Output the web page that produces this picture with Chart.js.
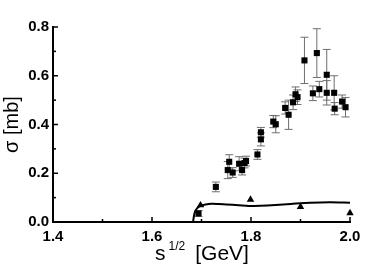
<!DOCTYPE html>
<html>
<head>
<meta charset="utf-8">
<script src="https://cdn.jsdelivr.net/npm/chart.js@4"></script>
<style>
  html, body { margin: 0; padding: 0; background: #fff; }
  #wrap { width: 384px; height: 273px; }
</style>
</head>
<body>
<div id="wrap"><canvas id="sigmaChart"></canvas></div>
<script>
// measured cross section (squares with error bars)
const sqX = [1.694, 1.729, 1.753, 1.756, 1.763, 1.776, 1.782, 1.787, 1.790, 1.813, 1.820, 1.820,
             1.845, 1.850, 1.869, 1.876, 1.885, 1.890, 1.894, 1.908, 1.925, 1.933, 1.938, 1.953,
             1.953, 1.968, 1.969, 1.984, 1.991];
const sqY = [0.035, 0.144, 0.213, 0.247, 0.203, 0.239, 0.213, 0.242, 0.250, 0.277, 0.339, 0.368,
             0.412, 0.401, 0.468, 0.440, 0.491, 0.524, 0.512, 0.663, 0.528, 0.693, 0.545, 0.604,
             0.530, 0.530, 0.465, 0.494, 0.471];
const sqErr = [0.012, 0.020, 0.035, 0.029, 0.020, 0.029, 0.020, 0.020, 0.020, 0.020, 0.027, 0.020,
               0.025, 0.035, 0.025, 0.060, 0.030, 0.030, 0.030, 0.095, 0.030, 0.100, 0.032, 0.104,
               0.050, 0.070, 0.025, 0.027, 0.040];

// triangles
const triX = [1.698, 1.799, 1.900, 2.000];
const triY = [0.069, 0.092, 0.062, 0.037];

// model curve
const curveX = [1.683, 1.6845, 1.686, 1.688, 1.691, 1.695, 1.700, 1.708, 1.720, 1.735, 1.750,
                1.775, 1.795, 1.820, 1.850, 1.880, 1.920, 1.960, 2.000];
const curveY = [0.000, 0.022, 0.036, 0.047, 0.056, 0.063, 0.068, 0.072, 0.075, 0.074, 0.072,
                0.069, 0.066, 0.067, 0.070, 0.074, 0.079, 0.081, 0.079];

const xTicks = { min: 1.4, max: 2.0, step: 0.1 };
const yTicks = { min: 0.0, max: 0.8, step: 0.1 };

const toPoints = (xs, ys) => xs.map((x, i) => ({ x: x, y: ys[i] }));
const isMajor = v => Math.round(v * 10) % 2 === 0;

const errorBars = {
    id: 'errorBars',
    beforeDatasetsDraw(chart) {
        const ctx = chart.ctx;
        const xs = chart.scales.x, ys = chart.scales.y;
        ctx.save();
        ctx.strokeStyle = '#6e6e6e';
        ctx.lineWidth = 1;
        sqX.forEach((x, i) => {
            const px = xs.getPixelForValue(x);
            const top = ys.getPixelForValue(sqY[i] + sqErr[i]);
            const bot = ys.getPixelForValue(sqY[i] - sqErr[i]);
            ctx.beginPath();
            ctx.moveTo(px, top); ctx.lineTo(px, bot);
            ctx.moveTo(px - 4, top); ctx.lineTo(px + 4, top);
            ctx.moveTo(px - 4, bot); ctx.lineTo(px + 4, bot);
            ctx.stroke();
        });
        ctx.restore();
    }
};

const axisDecor = {
    id: 'axisDecor',
    afterDraw(chart) {
        const ctx = chart.ctx;
        const area = chart.chartArea;
        const xs = chart.scales.x, ys = chart.scales.y;
        ctx.save();
        ctx.strokeStyle = '#000';
        ctx.lineWidth = 1.5;
        // inward ticks
        xs.ticks.forEach(t => {
            const px = xs.getPixelForValue(t.value);
            const len = isMajor(t.value) ? 5 : 3;
            ctx.beginPath();
            ctx.moveTo(px, area.bottom);
            ctx.lineTo(px, area.bottom - len);
            ctx.stroke();
        });
        ys.ticks.forEach(t => {
            const py = ys.getPixelForValue(t.value);
            const len = isMajor(t.value) ? 5 : 3;
            ctx.beginPath();
            ctx.moveTo(area.left, py);
            ctx.lineTo(area.left + len, py);
            ctx.stroke();
        });

        // x title with superscript
        ctx.fillStyle = '#000';
        ctx.textBaseline = 'alphabetic';
        ctx.textAlign = 'left';
        const big = '21px "Liberation Sans", Arial, sans-serif';
        const small = '12px "Liberation Sans", Arial, sans-serif';
        ctx.font = big;
        const wS = ctx.measureText('s').width;
        const wG = ctx.measureText('[GeV]').width;
        ctx.font = small;
        const wSup = ctx.measureText('1/2').width;
        const total = wS + 4 + wSup + 10 + wG;
        let cx = (area.left + area.right) / 2 - total / 2 + 1;
        const base = 260;
        ctx.font = big;
        ctx.fillText('s', cx, base);
        cx += wS + 3;
        ctx.font = small;
        ctx.fillText('1/2', cx, base - 10);
        cx += wSup + 10;
        ctx.font = big;
        ctx.fillText('[GeV]', cx, base);

        // y title
        ctx.translate(18, (area.top + area.bottom) / 2);
        ctx.rotate(-Math.PI / 2);
        ctx.textAlign = 'center';
        ctx.font = '20px "Liberation Sans", Arial, sans-serif';
        ctx.fillText('σ [mb]', 0, 0);
        ctx.restore();
    }
};

const tickFont = { family: '"Liberation Sans", Arial, sans-serif', size: 15, weight: 'bold' };

new Chart(document.getElementById('sigmaChart'), {
    type: 'scatter',
    data: {
        datasets: [
            {
                label: 'curve',
                data: toPoints(curveX, curveY),
                showLine: true,
                borderColor: '#000',
                borderWidth: 2,
                pointRadius: 0,
                tension: 0.3,
                fill: false
            },
            {
                label: 'squares',
                data: toPoints(sqX, sqY),
                pointStyle: 'rect',
                pointRadius: 4.3,
                backgroundColor: '#000',
                borderColor: '#000',
                borderWidth: 0,
                clip: false
            },
            {
                label: 'triangles',
                data: toPoints(triX, triY),
                pointStyle: 'triangle',
                pointRadius: 4.3,
                backgroundColor: '#000',
                borderColor: '#000',
                borderWidth: 0,
                clip: false
            }
        ]
    },
    options: {
        responsive: true,
        maintainAspectRatio: false,
        animation: false,
        layout: { padding: { top: 27, right: 34, left: 0, bottom: 0 } },
        plugins: { legend: { display: false }, tooltip: { enabled: false } },
        scales: {
            x: {
                type: 'linear',
                min: xTicks.min, max: xTicks.max,
                afterFit: s => { s.height = 51; },
                grid: { drawOnChartArea: false, drawTicks: false },
                border: { display: true, color: '#000', width: 2 },
                ticks: {
                    stepSize: xTicks.step,
                    padding: 6,
                    color: '#000',
                    font: tickFont,
                    maxRotation: 0,
                    autoSkip: false,
                    callback: v => isMajor(v) ? v.toFixed(1) : ''
                }
            },
            y: {
                type: 'linear',
                min: yTicks.min, max: yTicks.max,
                afterFit: s => { s.width = 53; },
                grid: { drawOnChartArea: false, drawTicks: false },
                border: { display: true, color: '#000', width: 2 },
                ticks: {
                    stepSize: yTicks.step,
                    padding: 4,
                    color: '#000',
                    font: tickFont,
                    autoSkip: false,
                    callback: v => isMajor(v) ? v.toFixed(1) : ''
                }
            }
        }
    },
    plugins: [errorBars, axisDecor]
});
</script>
</body>
</html>
